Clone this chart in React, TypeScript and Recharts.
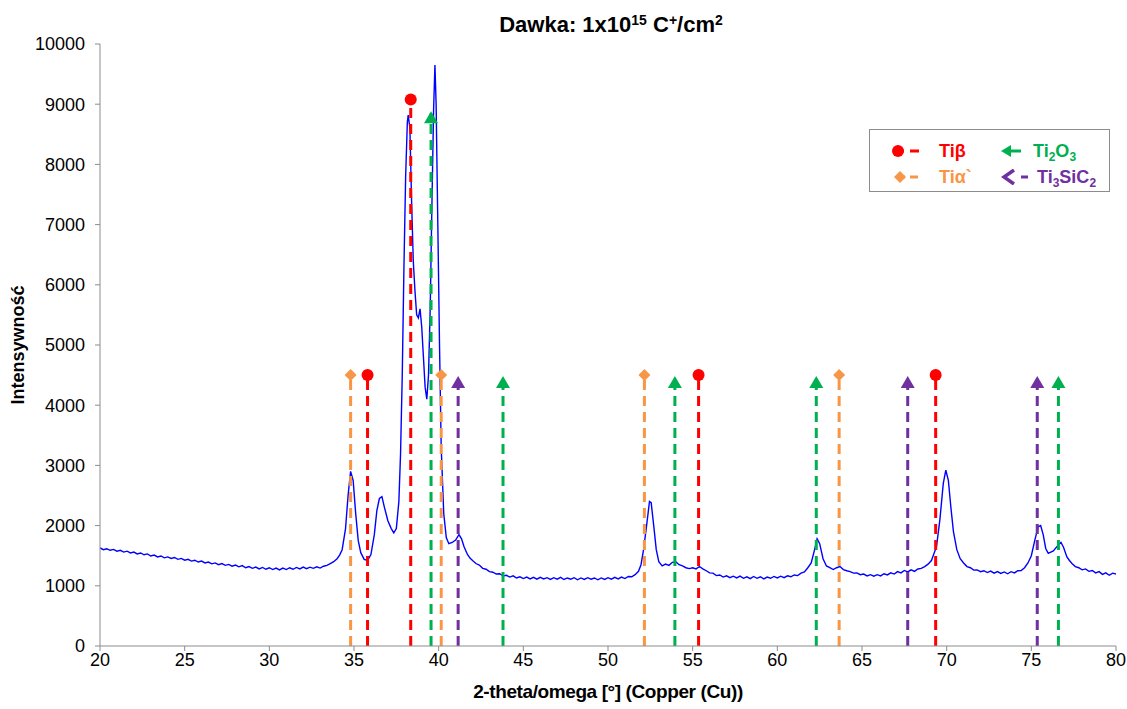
import React from "react";
import { LineChart, Line, XAxis, YAxis } from "recharts";

// [2θ, intensity]
const xrdPattern: [number, number][] = [
  [20.0,1630],[20.2,1600],[20.4,1615],[20.6,1590],[20.8,1605],[21.0,1575],[21.2,1590],[21.4,1560],[21.6,1575],[21.8,1545],
  [22.0,1560],[22.2,1530],[22.4,1545],[22.6,1515],[22.8,1530],[23.0,1495],[23.2,1510],[23.4,1480],[23.6,1495],[23.8,1465],
  [24.0,1480],[24.2,1455],[24.4,1470],[24.6,1440],[24.8,1455],[25.0,1425],[25.2,1440],[25.4,1410],[25.6,1425],[25.8,1395],
  [26.0,1410],[26.2,1380],[26.4,1395],[26.6,1365],[26.8,1380],[27.0,1350],[27.2,1370],[27.4,1340],[27.6,1355],[27.8,1325],
  [28.0,1345],[28.2,1315],[28.4,1335],[28.6,1300],[28.8,1320],[29.0,1290],[29.2,1310],[29.4,1280],[29.6,1305],[29.8,1275],
  [30.0,1300],[30.2,1270],[30.4,1295],[30.6,1265],[30.8,1295],[31.0,1270],[31.2,1300],[31.4,1275],[31.6,1305],[31.8,1280],
  [32.0,1310],[32.2,1285],[32.4,1310],[32.6,1290],[32.8,1315],[33.0,1295],[33.2,1325],[33.4,1340],[33.6,1370],[33.8,1400],
  [34.0,1450],[34.15,1510],[34.3,1600],[34.5,1950],[34.65,2500],[34.8,2900],[34.95,2750],[35.1,2200],[35.25,1750],[35.4,1550],
  [35.6,1440],[35.8,1420],[36.0,1520],[36.2,1850],[36.35,2250],[36.5,2450],[36.65,2480],[36.8,2300],[37.0,2080],[37.2,1950],
  [37.35,1880],[37.5,1950],[37.65,2400],[37.75,3200],[37.85,4500],[37.95,6300],[38.05,7800],[38.15,8700],[38.2,8820],[38.3,8600],
  [38.4,7400],[38.5,6400],[38.6,5900],[38.7,5500],[38.8,5450],[38.9,5600],[39.0,5300],[39.1,4800],[39.2,4300],[39.3,4100],
  [39.4,4500],[39.5,5600],[39.6,7300],[39.7,8900],[39.78,9650],[39.85,9000],[39.95,7000],[40.05,5000],[40.15,3300],[40.3,2200],
  [40.45,1800],[40.6,1700],[40.8,1720],[41.0,1760],[41.2,1850],[41.35,1780],[41.5,1650],[41.7,1520],[41.85,1460],[42.0,1420],
  [42.2,1370],[42.4,1345],[42.6,1290],[42.8,1275],[43.0,1235],[43.2,1225],[43.4,1195],[43.6,1200],[43.8,1165],[44.0,1175],
  [44.2,1145],[44.4,1165],[44.6,1130],[44.8,1150],[45.0,1120],[45.2,1145],[45.4,1115],[45.6,1140],[45.8,1110],[46.0,1140],
  [46.2,1115],[46.4,1135],[46.6,1105],[46.8,1135],[47.0,1110],[47.2,1140],[47.4,1105],[47.6,1130],[47.8,1110],[48.0,1135],
  [48.2,1100],[48.4,1130],[48.6,1105],[48.8,1135],[49.0,1110],[49.2,1130],[49.4,1100],[49.6,1130],[49.8,1105],[50.0,1135],
  [50.2,1110],[50.4,1140],[50.6,1115],[50.8,1145],[51.0,1120],[51.2,1155],[51.4,1150],[51.6,1185],[51.8,1240],[51.95,1350],
  [52.1,1600],[52.3,2050],[52.45,2400],[52.55,2380],[52.7,2000],[52.85,1600],[53.0,1400],[53.2,1330],[53.4,1360],[53.6,1340],
  [53.8,1390],[54.0,1400],[54.2,1350],[54.4,1330],[54.6,1300],[54.8,1285],[55.0,1300],[55.2,1280],[55.4,1320],[55.6,1280],
  [55.8,1250],[56.0,1215],[56.2,1210],[56.4,1170],[56.6,1180],[56.8,1145],[57.0,1165],[57.2,1135],[57.4,1160],[57.6,1130],
  [57.8,1160],[58.0,1125],[58.2,1150],[58.4,1120],[58.6,1155],[58.8,1125],[59.0,1150],[59.2,1115],[59.4,1145],[59.6,1125],
  [59.8,1155],[60.0,1130],[60.2,1160],[60.4,1135],[60.6,1165],[60.8,1150],[61.0,1180],[61.2,1170],[61.4,1210],[61.6,1230],
  [61.8,1300],[62.0,1380],[62.2,1600],[62.35,1780],[62.5,1700],[62.7,1450],[62.9,1330],[63.1,1300],[63.3,1270],[63.5,1300],
  [63.7,1320],[63.9,1270],[64.1,1250],[64.3,1235],[64.5,1210],[64.7,1215],[64.9,1185],[65.1,1195],[65.3,1165],[65.5,1185],
  [65.7,1160],[65.9,1185],[66.1,1165],[66.3,1200],[66.5,1180],[66.7,1215],[66.9,1195],[67.1,1235],[67.3,1215],[67.5,1255],
  [67.7,1230],[67.9,1265],[68.1,1240],[68.3,1280],[68.5,1290],[68.7,1320],[68.9,1360],[69.1,1420],[69.4,1650],[69.6,2100],
  [69.8,2700],[69.95,2920],[70.1,2750],[70.25,2300],[70.4,1900],[70.6,1600],[70.8,1450],[71.0,1380],[71.2,1320],[71.4,1300],
  [71.6,1260],[71.8,1265],[72.0,1235],[72.2,1250],[72.4,1220],[72.6,1245],[72.8,1210],[73.0,1235],[73.2,1205],[73.4,1230],
  [73.6,1200],[73.8,1235],[74.0,1215],[74.2,1250],[74.4,1255],[74.6,1300],[74.8,1380],[75.0,1500],[75.2,1750],[75.4,1980],
  [75.55,2000],[75.7,1850],[75.85,1620],[76.0,1540],[76.15,1560],[76.3,1580],[76.45,1630],[76.6,1680],[76.75,1720],[76.9,1640],
  [77.1,1480],[77.25,1420],[77.4,1370],[77.6,1320],[77.8,1300],[78.0,1265],[78.2,1280],[78.4,1240],[78.6,1255],[78.8,1215],
  [79.0,1235],[79.2,1190],[79.4,1215],[79.6,1175],[79.8,1210],[80.0,1195],
];

// Phase reference positions (2θ) and marker heights
const tiBetaPos = [35.8, 38.35, 55.35, 69.35];
const tiBetaTop = [4500, 9080, 4500, 4500];
const tiAlphaPos = [34.8, 40.15, 52.15, 63.65];
const tiAlphaTop = [4500, 4500, 4500, 4500];
const ti2o3Pos = [39.55, 43.8, 53.95, 62.3, 76.6];
const ti2o3Top = [8850, 4450, 4450, 4450, 4450];
const ti3sic2Pos = [41.15, 67.7, 75.35];
const ti3sic2Top = [4450, 4450, 4450];

const xTicks = [20, 25, 30, 35, 40, 45, 50, 55, 60, 65, 70, 75, 80];
const yTicks = [0, 1000, 2000, 3000, 4000, 5000, 6000, 7000, 8000, 9000, 10000];

const RED = "#FF0000";
const ORANGE = "#F79646";
const GREEN = "#00B050";
const PURPLE = "#7030A0";
const BLUE = "#0000FF";
const FONT = "'Liberation Sans', Arial, sans-serif";

const curveData = xrdPattern.map(([x, y]) => ({ x, y }));

function refData(pos: number[], top: number[]) {
  const out: { x: number; y: number | null; top?: boolean }[] = [];
  pos.forEach((p, i) => {
    out.push({ x: p, y: 0 });
    out.push({ x: p, y: top[i], top: true });
    out.push({ x: p, y: null });
  });
  return out;
}

type Shape = "circle" | "diamond" | "arrow";

function markerFor(shape: Shape, color: string) {
  return (props: any) => {
    const { cx, cy, index, payload } = props;
    if (!payload || !payload.top || cx == null || cy == null) return <g key={`e${index}`} />;
    if (shape === "circle") {
      return <circle key={`m${index}`} cx={cx} cy={cy} r={6} fill={color} />;
    }
    if (shape === "diamond") {
      return (
        <polygon
          key={`m${index}`}
          points={`${cx},${cy - 6} ${cx + 6},${cy} ${cx},${cy + 6} ${cx - 6},${cy}`}
          fill={color}
        />
      );
    }
    return (
      <polygon
        key={`m${index}`}
        points={`${cx},${cy - 2} ${cx + 7},${cy + 10} ${cx - 7},${cy + 10}`}
        fill={color}
      />
    );
  };
}

const refSeries = [
  { name: "Tiα`", data: refData(tiAlphaPos, tiAlphaTop), color: ORANGE, shape: "diamond" as Shape },
  { name: "Tiβ", data: refData(tiBetaPos, tiBetaTop), color: RED, shape: "circle" as Shape },
  { name: "Ti2O3", data: refData(ti2o3Pos, ti2o3Top), color: GREEN, shape: "arrow" as Shape },
  { name: "Ti3SiC2", data: refData(ti3sic2Pos, ti3sic2Top), color: PURPLE, shape: "arrow" as Shape },
];

function LegendBox() {
  const txt = { fontFamily: FONT, fontWeight: 700, fontSize: 18, lineHeight: "18px" } as React.CSSProperties;
  const sub = { fontSize: 12, verticalAlign: "-4px", lineHeight: 0 } as React.CSSProperties;
  return (
    <div
      style={{
        position: "absolute",
        left: 869,
        top: 129,
        width: 241,
        height: 63,
        border: "1px solid #8c8c8c",
        background: "#fff",
        boxSizing: "border-box",
      }}
    >
      <div style={{ position: "absolute", left: 21, top: 12, display: "flex", alignItems: "center" }}>
        <svg width={32} height={16}>
          <line x1={4} y1={8} x2={30} y2={8} stroke={RED} strokeWidth={3} strokeDasharray="9 6" />
          <circle cx={7} cy={8} r={6} fill={RED} />
        </svg>
        <span style={{ ...txt, color: RED, marginLeft: 16 }}>Tiβ</span>
      </div>
      <div style={{ position: "absolute", left: 129, top: 12, display: "flex", alignItems: "center" }}>
        <svg width={22} height={16}>
          <line x1={6} y1={8} x2={22} y2={8} stroke={GREEN} strokeWidth={3} />
          <polygon points="2,8 12,2 12,14" fill={GREEN} />
        </svg>
        <span style={{ ...txt, color: GREEN, marginLeft: 12 }}>
          Ti<span style={sub}>2</span>O<span style={sub}>3</span>
        </span>
      </div>
      <div style={{ position: "absolute", left: 23, top: 38, display: "flex", alignItems: "center" }}>
        <svg width={30} height={16}>
          <line x1={4} y1={8} x2={28} y2={8} stroke={ORANGE} strokeWidth={3} strokeDasharray="8 5" />
          <polygon points="7,2 13,8 7,14 1,8" fill={ORANGE} />
        </svg>
        <span style={{ ...txt, color: ORANGE, marginLeft: 16 }}>Tiα`</span>
      </div>
      <div style={{ position: "absolute", left: 131, top: 38, display: "flex", alignItems: "center" }}>
        <svg width={34} height={16}>
          <polyline points="13,1 3,8 13,15" fill="none" stroke={PURPLE} strokeWidth={3.5} />
          <line x1={20} y1={8} x2={27} y2={8} stroke={PURPLE} strokeWidth={3} />
        </svg>
        <span style={{ ...txt, color: PURPLE, marginLeft: 2 }}>
          Ti<span style={sub}>3</span>SiC<span style={sub}>2</span>
        </span>
      </div>
    </div>
  );
}

export default function App() {
  return (
    <div style={{ position: "absolute", left: 0, top: 0, width: 1127, height: 709, background: "#fff" }}>
      <LineChart
        width={1127}
        height={709}
        margin={{ top: 44, right: 11, left: 0, bottom: 0 }}
      >
        <XAxis
          dataKey="x"
          type="number"
          domain={[20, 80]}
          ticks={xTicks}
          allowDataOverflow
          height={63}
          stroke="#8c8c8c"
          tickSize={5}
          tick={{ fill: "#000", fontFamily: FONT, fontSize: 18 }}
          tickLine={{ stroke: "#8c8c8c" }}
          axisLine={{ stroke: "#8c8c8c" }}
        />
        <YAxis
          type="number"
          domain={[0, 10000]}
          ticks={yTicks}
          width={100}
          stroke="#8c8c8c"
          tickSize={5}
          tick={{ fill: "#000", fontFamily: FONT, fontSize: 18, dx: -8 }}
          tickLine={{ stroke: "#8c8c8c" }}
          axisLine={{ stroke: "#8c8c8c" }}
        />
        <Line
          data={curveData}
          dataKey="y"
          stroke={BLUE}
          strokeWidth={1.4}
          dot={false}
          isAnimationActive={false}
          type="linear"
        />
        {refSeries.map((s) => (
          <Line
            key={s.name}
            data={s.data}
            dataKey="y"
            stroke={s.color}
            strokeWidth={3}
            strokeDasharray="10 6"
            dot={markerFor(s.shape, s.color)}
            activeDot={false}
            connectNulls={false}
            isAnimationActive={false}
            type="linear"
          />
        ))}
      </LineChart>
      <div
        style={{
          position: "absolute",
          left: 0,
          width: 1222,
          top: 12,
          textAlign: "center",
          fontFamily: FONT,
          fontWeight: 700,
          fontSize: 22,
          lineHeight: "26px",
          color: "#000",
          whiteSpace: "nowrap",
        }}
      >
        Dawka: 1x10<span style={{ fontSize: 14, verticalAlign: "7px", lineHeight: 0 }}>15</span> C<span style={{ fontSize: 14, verticalAlign: "7px", lineHeight: 0 }}>+</span>/cm<span style={{ fontSize: 14, verticalAlign: "7px", lineHeight: 0 }}>2</span>
      </div>
      <div
        style={{
          position: "absolute",
          left: 0,
          width: 1216,
          top: 681,
          textAlign: "center",
          fontFamily: FONT,
          fontWeight: 700,
          fontSize: 19,
          lineHeight: "22px",
          color: "#000",
          letterSpacing: -0.4,
        }}
      >
        2-theta/omega [°] (Copper (Cu))
      </div>
      <div
        style={{
          position: "absolute",
          left: 18,
          top: 345,
          transform: "translate(-50%, -50%) rotate(-90deg)",
          fontFamily: FONT,
          fontWeight: 700,
          fontSize: 18,
          color: "#000",
          whiteSpace: "nowrap",
        }}
      >
        Intensywność
      </div>
      <LegendBox />
    </div>
  );
}
